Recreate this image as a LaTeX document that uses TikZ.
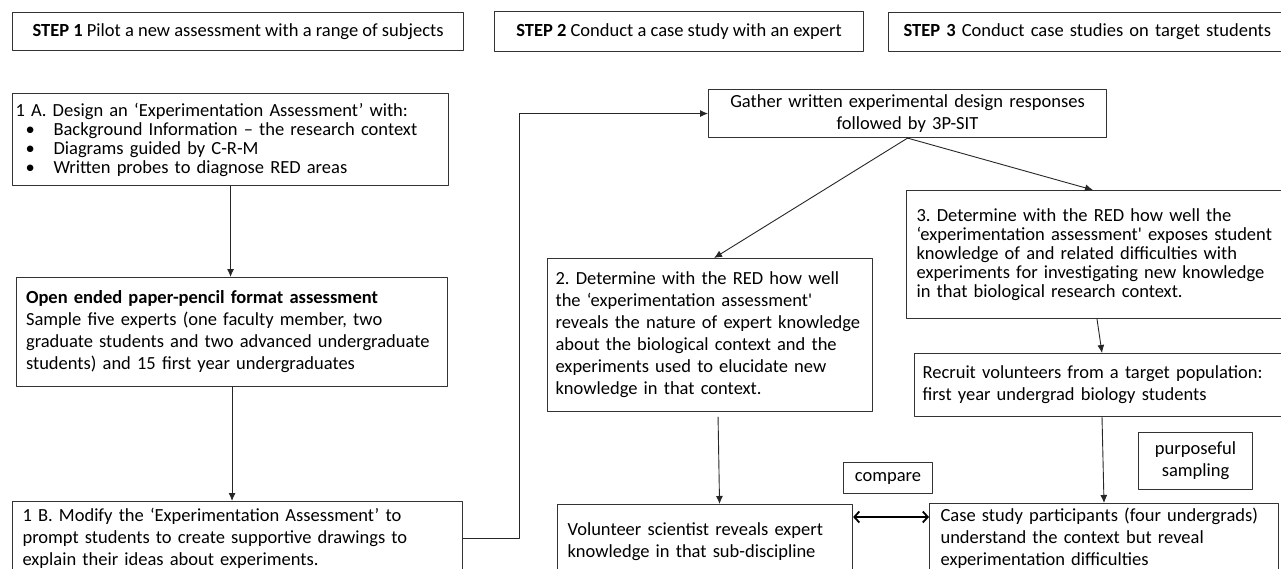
\documentclass[tikz,border=0pt]{standalone}
\usepackage{fontspec}
\setmainfont{Carlito}
\usetikzlibrary{arrows.meta}
\frenchspacing
\tikzset{
  box/.style={draw=black!80, line width=1.1pt, anchor=north west, inner xsep=10pt, inner ysep=0pt, align=left},
  arr/.style={draw=black!85, line width=0.9pt, -{Latex[length=8pt,width=7pt]}},
  dbl/.style={draw=black, line width=1.8pt, {Straight Barb[length=5pt,width=11pt]}-{Straight Barb[length=5pt,width=11pt]}},
}
\begin{document}
\begin{tikzpicture}[x=1pt, y=-1pt, font=\fontsize{18.5}{22}\selectfont, line join=round, line cap=round]
  \useasboundingbox (0,0) rectangle (1281,569);
  \clip (0,0) rectangle (1281,569);
  % step headings
  \node[box, align=center, minimum width=451pt, minimum height=38pt] (step1) at (12,12) {\textbf{STEP 1} Pilot a new assessment with a range of subjects};
  \node[box, align=center, minimum width=369pt, minimum height=40pt] (step2) at (494,11) {\textbf{STEP 2} Conduct a case study with an expert};
  \node[box, inner xsep=15pt, text width=385pt, minimum height=39pt] (step3) at (888,12) {\textbf{STEP 3} Conduct case studies on target students};
  % step 1
  \node[box, font=\fontsize{18.5}{19}\selectfont, inner xsep=3pt, text width=430pt, minimum height=92pt] (oneA) at (12,93)
    {1 A. Design an ‘Experimentation Assessment’ with:\\
     \hspace*{10pt}\makebox[28pt][l]{•}Background Information – the research context\\
     \hspace*{10pt}\makebox[28pt][l]{•}Diagrams guided by C-R-M\\
     \hspace*{10pt}\makebox[28pt][l]{•}Written probes to diagnose RED areas};
  \node[box, text width=412pt, inner xsep=9.5pt, minimum height=109pt] (oe) at (16,277)
    {\textbf{Open ended paper-pencil format assessment}\\
     Sample five experts (one faculty member, two\\
     graduate students and two advanced undergraduate\\
     students) and 15 first year undergraduates};
  \node[box, text width=430pt, minimum height=74pt] (oneB) at (12,501)
    {1 B. Modify the ‘Experimentation Assessment’ to\\
     prompt students to create supportive drawings to\\
     explain their ideas about experiments.};
  % step 2
  \node[box, align=center, text width=378pt, minimum height=48pt] (gather) at (708,89)
    {Gather written experimental design responses\\ followed by 3P-SIT};
  \node[box, inner xsep=8pt, text width=309pt, minimum height=153pt] (two) at (547,258)
    {2. Determine with the RED how well\\
     the ‘experimentation assessment\textquotesingle\\
     reveals the nature of expert knowledge\\
     about the biological context and the\\
     experiments used to elucidate new\\
     knowledge in that context.};
  \node[box, text width=275pt, minimum height=74pt] (vol) at (557,504)
    {Volunteer scientist reveals expert\\ knowledge in that sub-discipline};
  \node[box, inner xsep=4pt, align=center, minimum width=89pt, minimum height=31pt] (compare) at (843,462) {compare};
  % step 3
  \node[box, font=\fontsize{18.5}{19}\selectfont, text width=390pt, minimum height=128pt] (three) at (906,190)
    {3. Determine with the RED how well the\\
     ‘experimentation assessment\textquotesingle{} exposes student\\
     knowledge of and related difficulties with\\
     experiments for investigating new knowledge\\
     in that biological research context.};
  \node[box, inner xsep=8pt, text width=360pt, minimum height=63pt] (recruit) at (914,353)
    {Recruit volunteers from a target population:\\ first year undergrad biology students};
  \node[box, inner xsep=4pt, align=center, minimum width=114pt, minimum height=57pt] (purpose) at (1138,432)
    {purposeful\\ sampling};
  \node[box, inner xsep=11pt, text width=327pt, minimum height=70pt] (case) at (929,503)
    {Case study participants (four undergrads)\\
     understand the context but reveal\\
     experimentation difficulties};
  % connectors
  \draw[arr] (oneA.south) -- (oneA.south |- oe.north);
  \draw[arr] (oe.south) -- (oe.south |- oneB.north);
  \draw[arr] (oneB.east) -- ++(56,0) |- (gather.west);
  \draw[arr] (gather.south) -- ([xshift=4pt]two.north);
  \draw[arr] (gather.south) -- ([xshift=187pt]three.north west);
  \draw[arr] ([xshift=191pt]three.south west) -- ([xshift=188pt]recruit.north west);
  \draw[arr] ([xshift=188pt]recruit.south west) -- ([xshift=175pt]case.north west);
  \draw[arr] ([xshift=8pt,yshift=-5pt]two.south) -- ([xshift=14.5pt]vol.north);
  \draw[dbl] ([yshift=-13pt]vol.north east) -- ([yshift=-14pt]case.north west);
\end{tikzpicture}
\end{document}
